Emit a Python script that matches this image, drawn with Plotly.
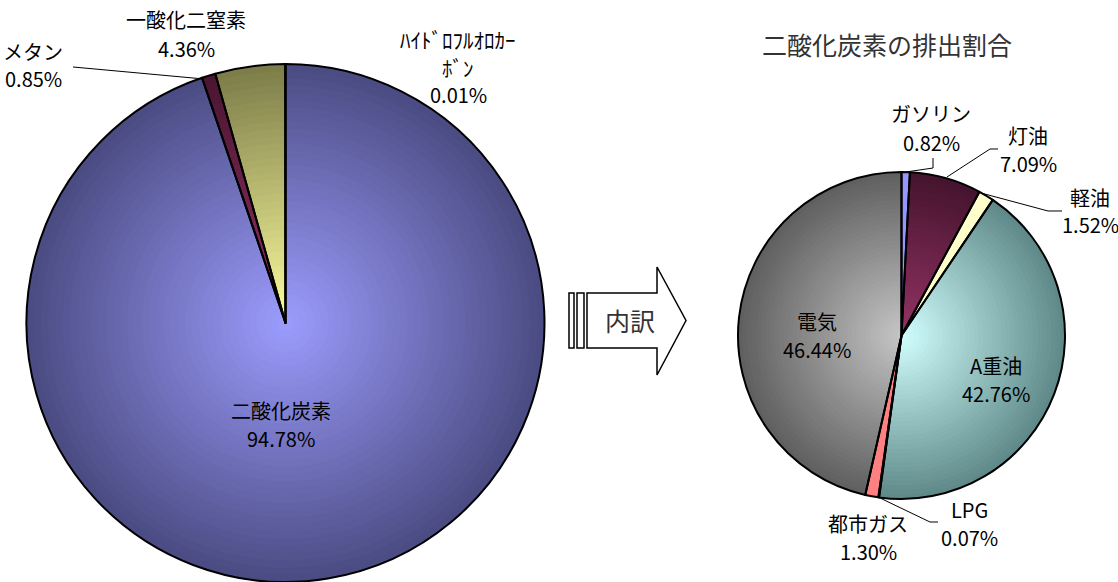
import numpy as np
import plotly.graph_objects as go

W, H = 1118, 582

# 温室効果ガス排出量の内訳（％）
ghg_labels = ["二酸化炭素", "メタン", "一酸化二窒素", "ﾊｲﾄﾞﾛﾌﾙｵﾛｶｰ<br>ﾎﾞﾝ"]
ghg_values = [94.78, 0.85, 4.36, 0.01]

# 二酸化炭素の排出割合（％）
co2_labels = ["ガソリン", "灯油", "軽油", "A重油", "LPG", "都市ガス", "電気"]
co2_values = [0.82, 7.09, 1.52, 42.76, 0.07, 1.30, 46.44]

# slice colours: (outer edge, centre) for a radial shading
ghg_colors = [((76, 76, 132), (157, 157, 255)),
              ((74, 22, 50), (150, 50, 100)),
              ((125, 125, 74), (255, 255, 160)),
              ((204, 255, 255), (204, 255, 255))]
co2_colors = [((150, 150, 255), (150, 150, 255)),
              ((70, 20, 46), (150, 52, 102)),
              ((255, 255, 204), (255, 255, 204)),
              ((96, 138, 138), (210, 255, 255)),
              ((51, 102, 255), (51, 102, 255)),
              ((255, 128, 128), (255, 128, 128)),
              ((96, 96, 96), (198, 198, 198))]

# pie geometry in pixels: centre x, centre y, radius
GHG_PIE = (285.5, 323, 259)
CO2_PIE = (901.5, 335.5, 163.5)
LAYERS = 36
FONT = "Noto Sans CJK JP"


def px(x):
    return x / W


def py(y):
    return 1 - y / H


def domain(cx, cy, r):
    return dict(x=[max(0, (cx - r) / W), min(1, (cx + r) / W)],
                y=[max(0, (H - cy - r) / H), min(1, (H - cy + r) / H)])


def mix(edge, centre, t):
    c = [round(centre[i] + (edge[i] - centre[i]) * t) for i in range(3)]
    return f"rgb({c[0]},{c[1]},{c[2]})"


fig = go.Figure()


def add_shaded_pie(labels, values, colors, geom):
    cx, cy, R = geom
    for k in range(LAYERS):
        s = (LAYERS - k) / LAYERS
        fig.add_trace(go.Pie(
            labels=labels, values=values, sort=False, direction="clockwise",
            rotation=0, textinfo="none", hoverinfo="skip", showlegend=False,
            domain=domain(cx, cy, R * s),
            marker=dict(colors=[mix(e, c, s) for e, c in colors],
                        line=dict(width=0)),
        ))
    # outline of every slice on top
    fig.add_trace(go.Pie(
        labels=labels, values=values, sort=False, direction="clockwise",
        rotation=0, textinfo="none", showlegend=False,
        hovertemplate="%{label}: %{value:.2f}%<extra></extra>",
        domain=domain(cx, cy, R),
        marker=dict(colors=["rgba(0,0,0,0)"] * len(values),
                    line=dict(color="black", width=2)),
    ))


add_shaded_pie(ghg_labels, ghg_values, ghg_colors, GHG_PIE)
add_shaded_pie(co2_labels, co2_values, co2_colors, CO2_PIE)

annotations = []


def label(text, x, y, size=20, color="black"):
    annotations.append(dict(
        text=text, x=px(x), y=py(y), xref="paper", yref="paper",
        xanchor="center", yanchor="middle", showarrow=False, borderpad=0,
        font=dict(family=FONT, size=size, color=color)))


# centre x and first-line y of each data label; lines are 28 px apart
LINE = 28
ghg_pos = [(281, 410), (33, 51), (186, 20), (458, 39)]
co2_pos = [(931, 114), (1028, 135), (1090, 197), (996, 365),
           (969, 509), (868, 523), (817, 321)]

for lab, val, (x, y) in zip(ghg_labels, ghg_values, ghg_pos):
    parts = lab.split("<br>")
    for i, part in enumerate(parts):
        label(part, x, y + i * LINE, size=20 if len(parts) == 1 else 21)
    label(f"{val:.2f}%", x, y + len(parts) * LINE)
for lab, val, (x, y) in zip(co2_labels, co2_values, co2_pos):
    label(lab, x, y)
    label(f"{val:.2f}%", x, y + LINE)

label("二酸化炭素の排出割合", 887, 44, size=25, color="#333333")
label("内訳", 630, 320, size=25, color="#333333")


def path(points, closed=False):
    d = "M " + " L ".join(f"{px(x):.5f},{py(y):.5f}" for x, y in points)
    return d + (" Z" if closed else "")


shapes = []
line = dict(color="black", width=1)
# leader lines
for pts in [[(73, 67), (204, 79)],
            [(933, 158), (933, 168), (906, 172)],
            [(998, 149), (990, 149), (947, 177)],
            [(1062, 211), (1048, 211), (981, 193)],
            [(880, 498), (930, 522), (938, 522)]]:
    shapes.append(dict(type="path", path=path(pts), xref="paper", yref="paper",
                       line=line, layer="above"))

# striped block arrow
arrow_line = dict(color="black", width=1.5)
for x0, x1 in [(569, 574), (577, 584)]:
    shapes.append(dict(type="path", path=path([(x0, 293), (x1, 293), (x1, 348), (x0, 348)], True),
                       xref="paper", yref="paper", line=arrow_line, fillcolor="white"))
shapes.append(dict(type="path",
                   path=path([(587, 293), (657, 293), (657, 267), (686, 320.5),
                              (657, 375), (657, 348), (587, 348)], True),
                   xref="paper", yref="paper", line=arrow_line, fillcolor="white"))

fig.update_layout(
    width=W, height=H, margin=dict(l=0, r=0, t=0, b=0),
    paper_bgcolor="white", plot_bgcolor="white",
    annotations=annotations, shapes=shapes, showlegend=False,
)

fig.write_html("out.html")
